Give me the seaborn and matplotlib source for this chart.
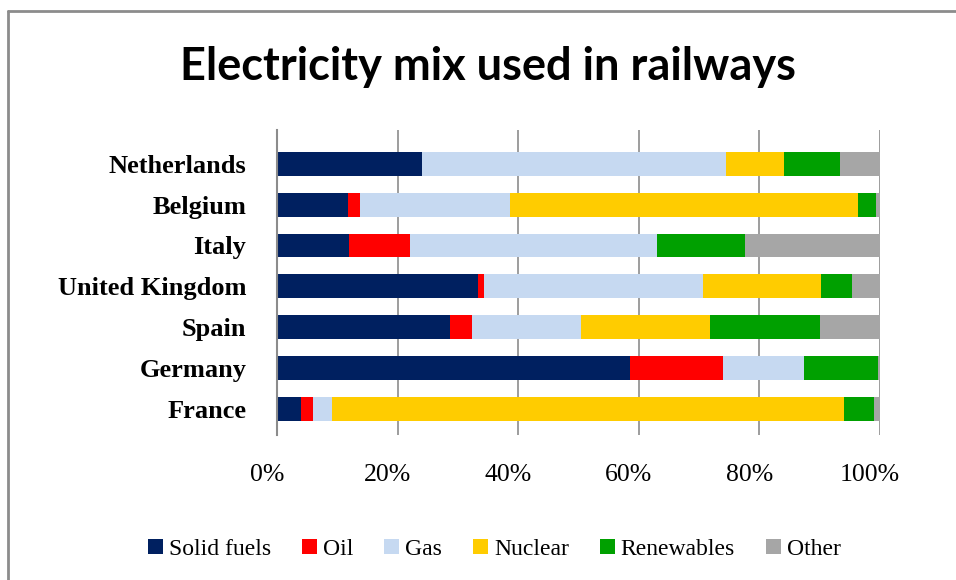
import matplotlib
matplotlib.use('Agg')
import matplotlib.pyplot as plt
import matplotlib.ticker as mtick
import matplotlib.transforms as mtrans
import pandas as pd
import seaborn as sns

# Countries, top to bottom as in the chart
countries = ['Netherlands', 'Belgium', 'Italy', 'United Kingdom', 'Spain', 'Germany', 'France']

# Share of each source (%) per country
solid_fuels = [24.0, 11.8, 12.0, 33.4, 28.7, 58.6, 4.0]
oil = [0.0, 1.9, 10.0, 0.9, 3.7, 15.3, 1.9]
gas = [50.5, 24.9, 41.0, 36.3, 18.1, 13.5, 3.2]
nuclear = [9.5, 57.7, 0.0, 19.6, 21.3, 0.0, 85.0]
renewables = [9.3, 3.0, 14.6, 5.1, 18.3, 12.3, 4.9]
other = [7.0, 0.7, 22.4, 4.7, 9.9, 0.3, 1.0]

sources = ['Solid fuels', 'Oil', 'Gas', 'Nuclear', 'Renewables', 'Other']
colors = ['#002060', '#FF0000', '#C6D9F1', '#FFCC00', '#00A000', '#A6A6A6']

df = pd.DataFrame({
    'Country': countries,
    'Solid fuels': solid_fuels,
    'Oil': oil,
    'Gas': gas,
    'Nuclear': nuclear,
    'Renewables': renewables,
    'Other': other,
})

# cumulative sums, so each bar can be overdrawn by the one before it
cum = df[sources].cumsum(axis=1)
cum['Country'] = df['Country']

sns.set_style('white')
plt.rcParams['font.family'] = ['Liberation Serif', 'DejaVu Serif']
plt.rcParams['text.color'] = 'black'
plt.rcParams['xtick.color'] = 'black'
plt.rcParams['ytick.color'] = 'black'

fig = plt.figure(figsize=(9.56, 5.8), dpi=100)
ax = fig.add_axes([0.2897, 0.25, 0.6308, 0.526])

# gridlines first so bars sit on top
for v in [20, 40, 60, 80, 100]:
    ax.axvline(v, color='#8C8C8C', lw=1.2, zorder=0)

for src, col in reversed(list(zip(sources, colors))):
    sns.barplot(data=cum, x=src, y='Country', order=countries, color=col,
                orient='h', width=0.58, saturation=1, ax=ax, label=src,
                edgecolor='none', zorder=2)

ax.set_xlim(0, 100)
ax.set_ylim(6.64, -0.83)
ax.xaxis.set_major_locator(mtick.MultipleLocator(20))
ax.xaxis.set_major_formatter(mtick.PercentFormatter(decimals=0))
ax.set_xlabel('')
ax.set_ylabel('')
ax.tick_params(axis='x', length=0, pad=21, labelsize=18.5)
ax.tick_params(axis='y', length=0, pad=22, labelsize=19)
for lab in ax.get_yticklabels():
    lab.set_fontweight('bold')
shift = mtrans.ScaledTranslation(-10 / 100, 0, fig.dpi_scale_trans)
for lab in ax.get_xticklabels():
    lab.set_transform(lab.get_transform() + shift)
for s in ['top', 'right', 'bottom']:
    ax.spines[s].set_visible(False)
ax.spines['left'].set_color('#8C8C8C')
ax.spines['left'].set_linewidth(1.5)

# legend in source order
handles, labels = ax.get_legend_handles_labels()
order = [labels.index(s) for s in sources]
if ax.legend_:
    ax.legend_.remove()
fig.legend([handles[i] for i in order], sources, loc='center',
           bbox_to_anchor=(0.517, 0.053), ncol=6, frameon=False,
           fontsize=17, handlelength=0.65, handleheight=0.65,
           handletextpad=0.25, columnspacing=1.3)

fig.text(0.51, 0.884, 'Electricity mix used in railways', ha='center', va='center',
         fontsize=32.5, fontweight='bold', color='black', family=['Lato', 'DejaVu Sans'])

# chart area border (left and top edges visible)
fig.add_artist(plt.Line2D([8 / 956, 8 / 956], [0, 1 - 11 / 580], transform=fig.transFigure,
                          color='#8C8C8C', lw=2))
fig.add_artist(plt.Line2D([8 / 956, 1], [1 - 11 / 580, 1 - 11 / 580], transform=fig.transFigure,
                          color='#8C8C8C', lw=2))

fig.savefig('out.png', dpi=100)
